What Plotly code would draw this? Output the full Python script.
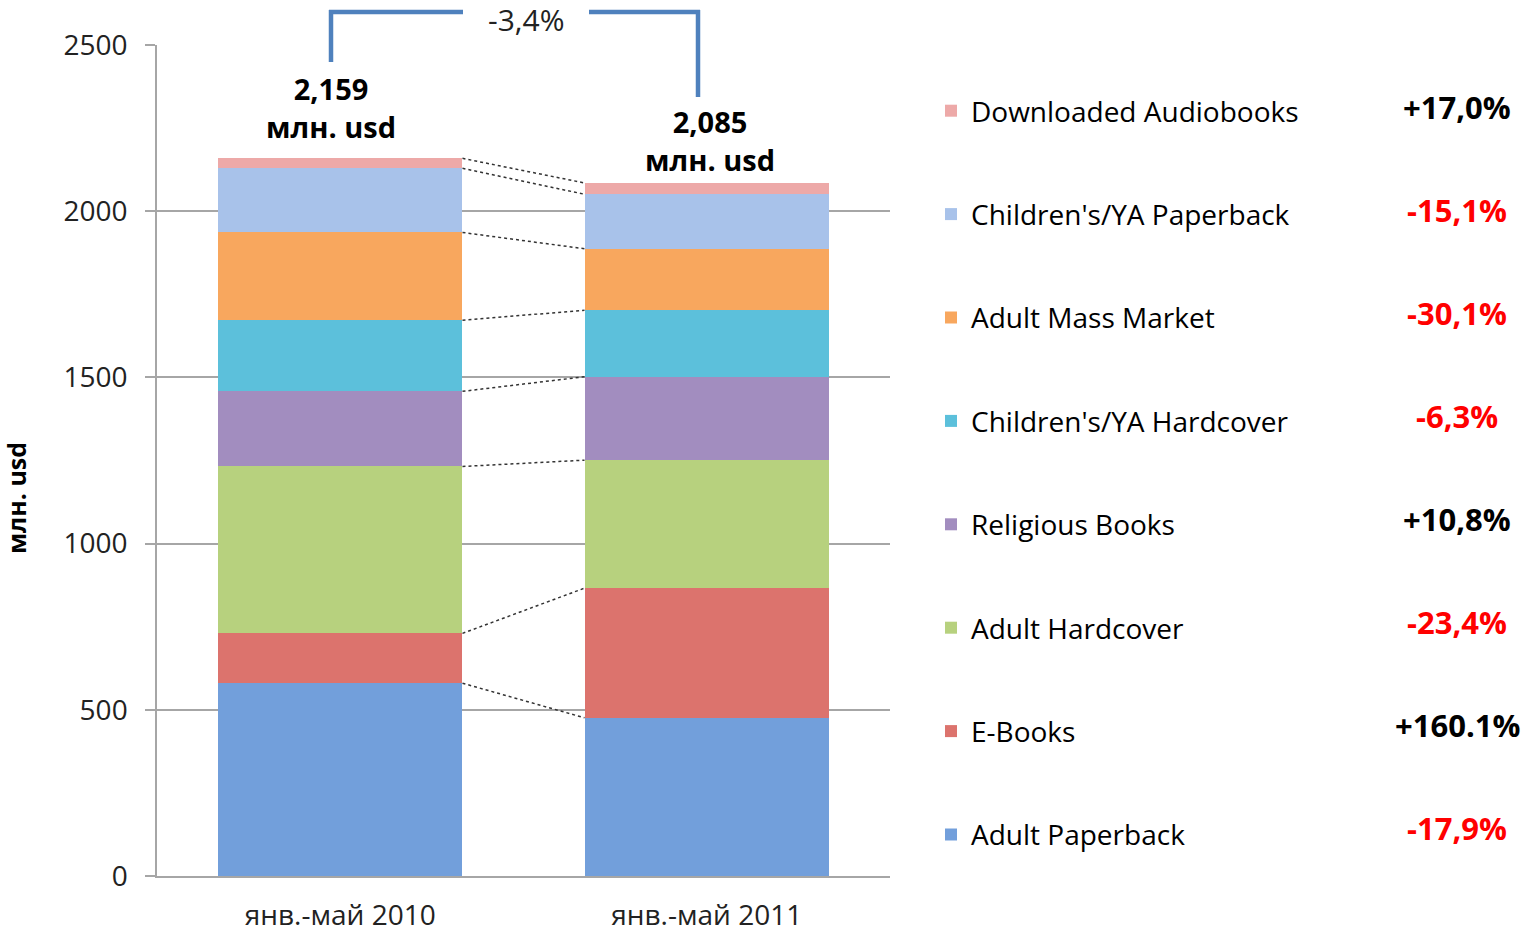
import plotly.graph_objects as go
import numpy as np

# ---------------- data ----------------
periods = ["янв.-май 2010", "янв.-май 2011"]
categories = [
    "Adult Paperback",
    "E-Books",
    "Adult Hardcover",
    "Religious Books",
    "Children's/YA Hardcover",
    "Adult Mass Market",
    "Children's/YA Paperback",
    "Downloaded Audiobooks",
]
sales_2010 = [580, 150, 502, 226, 214, 264, 193, 30]
sales_2011 = [476, 390, 385, 251, 200, 185, 164, 34]
changes = ["-17,9%", "+160.1%", "-23,4%", "+10,8%", "-6,3%", "-30,1%", "-15,1%", "+17,0%"]
totals = ["2,159", "2,085"]
total_change = "-3,4%"
y_ticks = [0, 500, 1000, 1500, 2000, 2500]

# ---------------- style ----------------
colors = ["#729FDB", "#DC736D", "#B7D17E", "#A28DBF", "#5CC0DB", "#F8A75E", "#A8C2EA", "#EDA9A8"]
FONT = "Open Sans"
W, H = 1525, 933
L, R, T, B = 157, 890, 45, 876   # plot area in pixels
bar_width = 0.667


def px_x(px):
    return (px - L) / (R - L)


def px_y(py):
    return (B - py) / (B - T)


fig = go.Figure()
xpos = [0, 1]
n = len(categories)
for i, name in enumerate(categories):
    fig.add_trace(go.Bar(
        x=xpos, y=[sales_2010[i], sales_2011[i]], name=name,
        legendgroup=name, legendrank=100 + (n - i),
        marker=dict(color=colors[i], line=dict(width=0)),
        width=bar_width,
    ))

# dotted connectors between segment tops
cum10 = np.cumsum(sales_2010)
cum11 = np.cumsum(sales_2011)
for i in range(n):
    fig.add_trace(go.Scatter(
        x=[xpos[0] + bar_width / 2, xpos[1] - bar_width / 2],
        y=[cum10[i], cum11[i]], mode="lines",
        line=dict(color="#333333", width=1.5, dash="dot"),
        showlegend=False, hoverinfo="skip",
    ))


def ann(x, y, text, size, color="black", **kw):
    d = dict(xref="paper", yref="paper", x=px_x(x), y=px_y(y), text=text,
             showarrow=False, xanchor="center", yanchor="middle",
             font=dict(family=FONT, size=size, color=color))
    d.update(kw)
    return d


annotations = [
    ann(331, 108, f"<b>{totals[0]}<br>млн. usd</b>", 29),
    ann(710, 140, f"<b>{totals[1]}<br>млн. usd</b>", 29),
    ann(526, 19, total_change, 30, "#222222"),
    ann(16, 498, "<b>млн. usd</b>", 25, textangle=-90),
]
# change percentages (legend top = last category)
for k, i in enumerate(reversed(range(n))):
    ch = changes[i]
    col = "#FF0000" if ch.startswith("-") else "#000000"
    annotations.append(ann(1457, 107 + k * 103.0, f"<b>{ch}</b>", 31, col))

# bracket
bc = "#4F81BD"
shapes = []
for (x0, y0, x1, y1) in [(331, 62, 331, 10), (329, 12, 463, 12), (589, 12, 700, 12), (698, 10, 698, 97)]:
    shapes.append(dict(type="line", xref="paper", yref="paper",
                       x0=px_x(x0), y0=px_y(y0), x1=px_x(x1), y1=px_y(y1),
                       line=dict(color=bc, width=4.5)))

fig.update_layout(
    width=W, height=H,
    margin=dict(l=L, r=W - R, t=T, b=H - B, pad=0, autoexpand=False),
    barmode="stack",
    plot_bgcolor="white", paper_bgcolor="white",
    font=dict(family=FONT, color="black"),
    showlegend=True,
    legend=dict(x=px_x(931), y=px_y(86), xanchor="left", yanchor="top",
                traceorder="grouped", tracegroupgap=64,
                font=dict(family=FONT, size=28, color="black"),
                bgcolor="rgba(0,0,0,0)"),
    annotations=annotations,
    shapes=shapes,
    xaxis=dict(range=[-0.5, 1.5], tickvals=xpos, ticktext=periods,
               showgrid=False, zeroline=False, showline=True, linecolor="#A6A6A6",
               linewidth=1.5, ticks="", ticklabelstandoff=14,
               tickfont=dict(family=FONT, size=28, color="#222222")),
    yaxis=dict(range=[0, 2500], tickvals=y_ticks, showgrid=True, gridcolor="#A6A6A6",
               gridwidth=1.5, zeroline=False, showline=True, linecolor="#A6A6A6",
               linewidth=1.5, ticks="outside", ticklen=10, tickcolor="#A6A6A6",
               tickwidth=1.5, ticklabelstandoff=12,
               tickfont=dict(family=FONT, size=28, color="#222222")),
)

fig.write_html("out.html", config={"displayModeBar": False},
               post_script="document.body.style.margin='0';")
